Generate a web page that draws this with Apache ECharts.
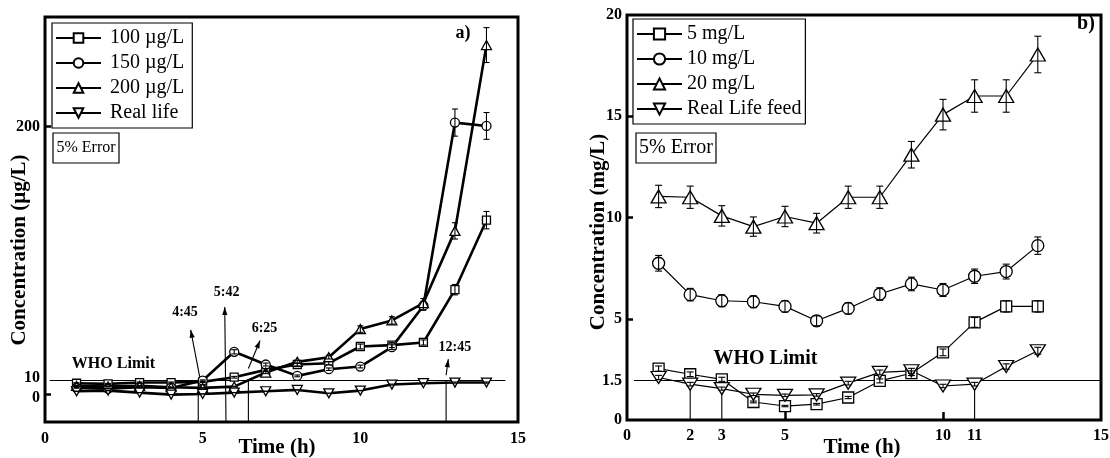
<!DOCTYPE html>
<html style="height: 100%">
<head>
    <meta charset="utf-8">
</head>
<body style="height: 100%; margin: 0; background: #fff">
    <div id="container" style="width: 1110px; height: 458px"></div>
    <script type="text/javascript" src="https://cdn.jsdelivr.net/npm/echarts@6/dist/echarts.min.js"></script>
    <script type="text/javascript">
        // ---- panel a) ----
        var hoursA = [1, 2, 3, 4, 5, 6, 7, 8, 9, 10, 11, 12, 13, 14];
        var namesA = ['100 \u00b5g/L', '150 \u00b5g/L', '200 \u00b5g/L', 'Real life'];
        var c100 = [8, 7.5, 8.5, 8.5, 9, 12.5, 18, 22, 23, 35.5, 36.5, 38.5, 78, 130];
        var c150 = [4.5, 4, 5, 4.5, 10, 31.5, 22, 13.5, 18.5, 20.5, 35, 66, 203, 200.5];
        var c200 = [6, 5.5, 6, 5, 4.5, 5.5, 16, 24, 27.5, 48.5, 55, 68, 122, 261];
        var cRealA = [2, 2.5, 1, -0.5, 0, 1, 2, 3, 0.5, 2.5, 7, 8, 8.5, 8.5];
        var whoA = 10;
        // [x1, y1, x2, y2, arrow]
        var segA = [
            [0.15, whoA, 14.6, whoA, 0],
            [4.86, -21, 4.86, whoA, 0],
            [4.92, 11, 4.62, 48, 1],
            [5.74, -21, 5.70, 65, 1],
            [6.45, -21, 6.45, whoA, 0],
            [6.45, 19, 6.82, 40, 1],
            [12.72, -21, 12.72, whoA, 0],
            [12.72, 14, 12.79, 26, 1]
        ];
        var notesA = [['4:45', 4.44, 61], ['5:42', 5.76, 76], ['6:25', 6.96, 49], ['12:45', 13.0, 35]];
        var whoLabelA = [2.17, 22.4];

        // ---- panel b) ----
        var hoursB = [1, 2, 3, 4, 5, 6, 7, 8, 9, 10, 11, 12, 13];
        var namesB = ['5 mg/L', '10 mg/L', '20 mg/L', 'Real Life feed'];
        var c5 = [2.54, 2.26, 2.01, 0.89, 0.69, 0.78, 1.11, 1.93, 2.31, 3.34, 4.82, 5.61, 5.61];
        var c10 = [7.74, 6.19, 5.89, 5.84, 5.61, 4.9, 5.51, 6.22, 6.72, 6.42, 7.1, 7.33, 8.61];
        var c20 = [11.04, 11, 10.08, 9.55, 10.05, 9.72, 11, 11, 13.1, 15.08, 16, 16, 18.05];
        var cRealB = [2.1, 1.77, 1.55, 1.27, 1.22, 1.24, 1.82, 2.35, 2.43, 1.68, 1.77, 2.64, 3.42];
        var whoB = 1.95;
        var segB = [
            [0.22, whoB, 15, whoB, 0],
            [2, 0, 2, 1.85, 0],
            [3, 0, 3, 1.7, 0],
            [11, 0, 11, whoB, 0]
        ];
        var whoLabelB = [4.38, 3.04];

        var errPct = 0.05;
        var FONT = "'Liberation Serif', 'Times New Roman', serif";

        var dom = document.getElementById('container');
        var myChart = echarts.init(dom);

        function pairs(xs, ys) {
            return xs.map(function (x, i) { return [x, ys[i]]; });
        }

        function errData(xs, lists) {
            var out = [];
            lists.forEach(function (ys) {
                ys.forEach(function (y, i) {
                    var e = Math.abs(y) * errPct;
                    out.push([xs[i], y - e, y + e]);
                });
            });
            return out;
        }

        function errRender(cap, lw) {
            return function (params, api) {
                var x = api.value(0);
                var top = api.coord([x, api.value(2)]);
                var bot = api.coord([x, api.value(1)]);
                var st = { stroke: '#000', lineWidth: lw };
                return {
                    type: 'group',
                    children: [
                        { type: 'line', shape: { x1: top[0], y1: top[1], x2: bot[0], y2: bot[1] }, style: st },
                        { type: 'line', shape: { x1: top[0] - cap, y1: top[1], x2: top[0] + cap, y2: top[1] }, style: st },
                        { type: 'line', shape: { x1: bot[0] - cap, y1: bot[1], x2: bot[0] + cap, y2: bot[1] }, style: st }
                    ]
                };
            };
        }

        function segRender(params, api) {
            var a = api.coord([api.value(0), api.value(1)]);
            var b = api.coord([api.value(2), api.value(3)]);
            var kids = [{ type: 'line', shape: { x1: a[0], y1: a[1], x2: b[0], y2: b[1] }, style: { stroke: '#000', lineWidth: 1.1 } }];
            if (api.value(4)) {
                var dx = b[0] - a[0], dy = b[1] - a[1];
                var len = Math.sqrt(dx * dx + dy * dy);
                var ux = dx / len, uy = dy / len;
                var hl = 8, hw = 2.6;
                kids.push({
                    type: 'polygon',
                    shape: { points: [[b[0], b[1]], [b[0] - ux * hl - uy * hw, b[1] - uy * hl + ux * hw], [b[0] - ux * hl + uy * hw, b[1] - uy * hl - ux * hw]] },
                    style: { fill: '#000' }
                });
            }
            return { type: 'group', children: kids };
        }

        function textRender(list, size) {
            return function (params, api) {
                var n = list[params.dataIndex];
                var p = api.coord([n[1], n[2]]);
                return {
                    type: 'text', x: p[0], y: p[1],
                    style: { text: n[0], fill: '#000', font: 'bold ' + size + 'px ' + FONT, align: 'center', verticalAlign: 'middle' }
                };
            };
        }

        function lineSeries(name, data, symbol, rotate, idx, size, lw) {
            return {
                name: name,
                type: 'line',
                xAxisIndex: idx,
                yAxisIndex: idx,
                data: data,
                symbol: symbol,
                symbolRotate: rotate,
                symbolSize: size,
                showAllSymbol: true,
                lineStyle: { color: '#000', width: lw },
                itemStyle: { color: '#fff', borderColor: '#000', borderWidth: 1.3 },
                emphasis: { disabled: true },
                z: 3
            };
        }

        var tickLabel = { color: '#000', fontFamily: FONT, fontWeight: 'bold', fontSize: 16, hideOverlap: false };

        var notesBWho = [['WHO Limit', whoLabelB[0], whoLabelB[1]]];
        var notesAWho = [['WHO Limit', whoLabelA[0], whoLabelA[1]]];

        option = {
            backgroundColor: '#fff',
            animation: false,
            grid: [
                { left: 45, top: 17, width: 473, height: 405, outerBoundsMode: 'none', containLabel: false, show: true, borderColor: '#000', borderWidth: 3, backgroundColor: 'transparent' },
                { left: 627, top: 15, width: 474, height: 405, outerBoundsMode: 'none', containLabel: false, show: true, borderColor: '#000', borderWidth: 3, backgroundColor: 'transparent' }
            ],
            xAxis: [
                {
                    gridIndex: 0, type: 'value', min: 0, max: 15,
                    axisLine: { show: false }, splitLine: { show: false },
                    axisTick: { inside: true, length: 7, lineStyle: { color: '#000', width: 2.5 }, customValues: [5, 10] },
                    axisLabel: Object.assign({ margin: 9, customValues: [0, 5, 10, 15] }, tickLabel)
                },
                {
                    gridIndex: 1, type: 'value', min: 0, max: 15,
                    axisLine: { show: false }, splitLine: { show: false },
                    axisTick: { inside: true, length: 8, lineStyle: { color: '#000', width: 2.5 }, customValues: [5, 10] },
                    axisLabel: Object.assign({ margin: 8, customValues: [0, 2, 3, 5, 10, 11, 15] }, tickLabel)
                }
            ],
            yAxis: [
                {
                    gridIndex: 0, type: 'value', min: -21, max: 282,
                    axisLine: { show: false }, splitLine: { show: false },
                    axisTick: { inside: true, length: 6, lineStyle: { color: '#000', width: 2.5 }, customValues: [0, 200] },
                    axisLabel: Object.assign({
                        margin: 5, customValues: [0, 10, 200],
                        formatter: function (v) {
                            if (v === 0) return '{lo|0}';
                            if (v === 10) return '{hi|10}';
                            return String(v);
                        },
                        rich: {
                            lo: { fontFamily: FONT, fontWeight: 'bold', fontSize: 16, color: '#000', padding: [7, 0, 0, 0] },
                            hi: { fontFamily: FONT, fontWeight: 'bold', fontSize: 16, color: '#000', padding: [0, 0, 5, 0] }
                        }
                    }, tickLabel)
                },
                {
                    gridIndex: 1, type: 'value', min: 0, max: 20,
                    axisLine: { show: false }, splitLine: { show: false },
                    axisTick: { inside: true, length: 6, lineStyle: { color: '#000', width: 2.5 }, customValues: [5, 10, 15] },
                    axisLabel: Object.assign({
                        margin: 5, customValues: [0, whoB, 5, 10, 15, 20],
                        formatter: function (v) { return v === whoB ? '1.5' : String(v); }
                    }, tickLabel)
                }
            ],
            legend: [
                {
                    data: namesA, orient: 'vertical', left: 52, top: 23,
                    borderColor: '#000', borderWidth: 1.2, padding: [5, 8, 5, 3], itemGap: 5,
                    itemWidth: 45, itemHeight: 12, selectedMode: false,
                    textStyle: { color: '#000', fontFamily: FONT, fontSize: 20, padding: [0, 0, 0, 4] }
                },
                {
                    data: namesB, orient: 'vertical', left: 633, top: 19,
                    borderColor: '#000', borderWidth: 1.2, padding: [5, 4, 5, 3], itemGap: 5,
                    itemWidth: 45, itemHeight: 14, selectedMode: false,
                    textStyle: { color: '#000', fontFamily: FONT, fontSize: 20, padding: 0 }
                }
            ],
            graphic: [
                { type: 'text', x: 20, y: 250, rotation: Math.PI / 2, style: { text: 'Concentration (\u00b5g/L)', font: 'bold 21px ' + FONT, fill: '#000', align: 'center', verticalAlign: 'middle' } },
                { type: 'text', x: 599, y: 232, rotation: Math.PI / 2, style: { text: 'Concentration (mg/L)', font: 'bold 21px ' + FONT, fill: '#000', align: 'center', verticalAlign: 'middle' } },
                { type: 'text', x: 277, y: 448, style: { text: 'Time (h)', font: 'bold 21px ' + FONT, fill: '#000', align: 'center', verticalAlign: 'middle' } },
                { type: 'text', x: 862, y: 448, style: { text: 'Time (h)', font: 'bold 21px ' + FONT, fill: '#000', align: 'center', verticalAlign: 'middle' } },
                { type: 'text', x: 463, y: 33, style: { text: 'a)', font: 'bold 18px ' + FONT, fill: '#000', align: 'center', verticalAlign: 'middle' } },
                { type: 'text', x: 1086, y: 24, style: { text: 'b)', font: 'bold 20px ' + FONT, fill: '#000', align: 'center', verticalAlign: 'middle' } },
                { type: 'rect', shape: { x: 53, y: 133, width: 66, height: 30 }, style: { fill: '#fff', stroke: '#000', lineWidth: 1.2 } },
                { type: 'text', x: 86, y: 148, style: { text: '5% Error', font: '16px ' + FONT, fill: '#000', align: 'center', verticalAlign: 'middle' } },
                { type: 'rect', shape: { x: 636, y: 133, width: 80, height: 30 }, style: { fill: '#fff', stroke: '#000', lineWidth: 1.2 } },
                { type: 'text', x: 676, y: 148, style: { text: '5% Error', font: '20px ' + FONT, fill: '#000', align: 'center', verticalAlign: 'middle' } }
            ],
            series: [
                lineSeries(namesA[0], pairs(hoursA, c100), 'rect', 0, 0, 8, 2.6),
                lineSeries(namesA[1], pairs(hoursA, c150), 'circle', 0, 0, 9, 2.6),
                lineSeries(namesA[2], pairs(hoursA, c200), 'triangle', 0, 0, [10, 9], 2.6),
                lineSeries(namesA[3], pairs(hoursA, cRealA), 'triangle', 180, 0, [10, 9], 2.6),
                {
                    type: 'custom', name: 'errA', xAxisIndex: 0, yAxisIndex: 0, z: 4,
                    data: errData(hoursA, [c100, c150, c200, cRealA]),
                    encode: { x: 0, y: [1, 2] },
                    renderItem: errRender(3, 1.1)
                },
                {
                    type: 'custom', name: 'segA', xAxisIndex: 0, yAxisIndex: 0, z: 2,
                    data: segA, encode: { x: [0, 2], y: [1, 3] },
                    renderItem: segRender
                },
                {
                    type: 'custom', name: 'notesA', xAxisIndex: 0, yAxisIndex: 0, z: 5,
                    data: notesA.map(function (n) { return [n[1], n[2]]; }), encode: { x: 0, y: 1 },
                    renderItem: textRender(notesA, 14)
                },
                {
                    type: 'custom', name: 'whoA', xAxisIndex: 0, yAxisIndex: 0, z: 5,
                    data: [whoLabelA], encode: { x: 0, y: 1 },
                    renderItem: textRender(notesAWho, 16)
                },
                lineSeries(namesB[0], pairs(hoursB, c5), 'rect', 0, 1, 11, 1.2),
                lineSeries(namesB[1], pairs(hoursB, c10), 'circle', 0, 1, 12, 1.2),
                lineSeries(namesB[2], pairs(hoursB, c20), 'triangle', 0, 1, [15, 13], 1.2),
                lineSeries(namesB[3], pairs(hoursB, cRealB), 'triangle', 180, 1, [15, 12], 1.2),
                {
                    type: 'custom', name: 'errB', xAxisIndex: 1, yAxisIndex: 1, z: 4,
                    data: errData(hoursB, [c5, c10, c20, cRealB]),
                    encode: { x: 0, y: [1, 2] },
                    renderItem: errRender(3.5, 1.1)
                },
                {
                    type: 'custom', name: 'segB', xAxisIndex: 1, yAxisIndex: 1, z: 2,
                    data: segB, encode: { x: [0, 2], y: [1, 3] },
                    renderItem: segRender
                },
                {
                    type: 'custom', name: 'whoB', xAxisIndex: 1, yAxisIndex: 1, z: 5,
                    data: [whoLabelB], encode: { x: 0, y: 1 },
                    renderItem: textRender(notesBWho, 20)
                }
            ]
        };

        if (option && typeof option === 'object') {
            myChart.setOption(option, true);
        }
    </script>
</body>
</html>
